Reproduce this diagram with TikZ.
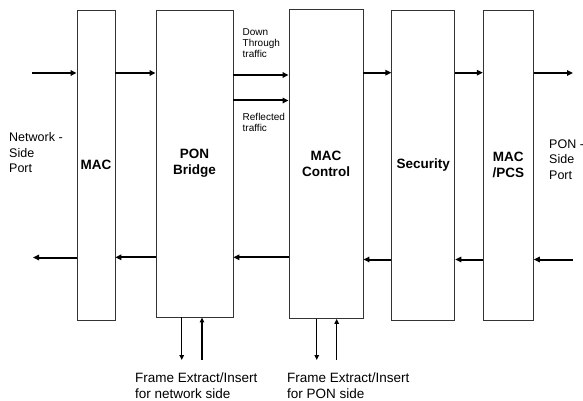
\documentclass[tikz,border=0pt]{standalone}
\usepackage{fontspec}
\setmainfont{Liberation Sans}
\usetikzlibrary{arrows.meta}
\tikzset{
  box/.style={draw=black!80, line width=0.9pt, inner sep=0pt, align=center,
    font=\fontsize{13.5}{16}\selectfont\bfseries},
  arr/.style={line width=2pt, -{Triangle[length=6pt,width=5.5pt]}},
  varr/.style={line width=1.3pt, -{Triangle[length=5pt,width=4.5pt]}},
  lbl/.style={align=left, anchor=west, inner sep=0pt, font=\fontsize{12.5}{15.5}\selectfont},
  flbl/.style={align=left, anchor=west, inner sep=0pt, font=\fontsize{13.5}{16}\selectfont},
  slbl/.style={align=left, anchor=west, inner sep=0pt, font=\fontsize{10}{11}\selectfont},
}
\begin{document}
\begin{tikzpicture}[x=1pt,y=-1pt]
\useasboundingbox (0,0) rectangle (583,401);
% boxes
\node[box, minimum width=38, minimum height=310] (mac) at (96,165) {MAC};
\node[box, minimum width=77, minimum height=307] (bridge) at (194.5,163.5) {PON\\Bridge};
\node[box, minimum width=74, minimum height=309] (ctrl) at (326,164) {MAC\\Control};
\node[box, minimum width=63, minimum height=310] (sec) at (423.3,165) {Security};
\node[box, minimum width=50, minimum height=310] (pcs) at (508.3,165) {MAC\\/PCS};
% free ends
\coordinate (netin) at (32,73);
\coordinate (netout) at (33,257.5);
\coordinate (ponout) at (573,73);
\coordinate (ponin) at (573,259.5);
\coordinate (fe1) at (181.7,360);
\coordinate (fi1) at (202,360);
\coordinate (fe2) at (316.7,360);
\coordinate (fi2) at (336.7,360);
% downstream
\draw[arr] (netin) -- (mac.west |- netin);
\draw[arr] (mac.east |- netin) -- (bridge.west |- netin);
\draw[arr] (bridge.east |- 0,75) -- (ctrl.west |- 0,75);
\draw[arr] (bridge.east |- 0,100.5) -- (ctrl.west |- 0,100.5);
\draw[arr] (ctrl.east |- 0,72.7) -- (sec.west |- 0,72.7);
\draw[arr] (sec.east |- 0,72.7) -- (pcs.west |- 0,72.7);
\draw[arr] (pcs.east |- ponout) -- (ponout);
% upstream
\draw[arr] (ponin) -- (pcs.east |- ponin);
\draw[arr] (pcs.west |- ponin) -- (sec.east |- ponin);
\draw[arr] (sec.west |- ponin) -- (ctrl.east |- ponin);
\draw[arr] (ctrl.west |- 0,257.3) -- (bridge.east |- 0,257.3);
\draw[arr] (bridge.west |- 0,257.3) -- (mac.east |- 0,257.3);
\draw[arr] (mac.west |- netout) -- (netout);
% extract/insert
\draw[varr] (bridge.south -| fe1) -- (fe1);
\draw[varr] (fi1) -- (bridge.south -| fi1);
\draw[varr] (ctrl.south -| fe2) -- (fe2);
\draw[varr] (fi2) -- (ctrl.south -| fi2);
% labels
\node[lbl] (nsp) at (9,153) {Network -\\Side\\Port};
\node[lbl] (psp) at (549,159.5) {PON -\\Side\\Port};
\node[slbl] (dtt) at (242.5,43) {Down\\Through\\traffic};
\node[slbl] (rt) at (242.5,122.5) {Reflected\\traffic};
\node[flbl] (fx1) at (135,385.5) {Frame Extract/Insert\\for network side};
\node[flbl] (fx2) at (287,385.5) {Frame Extract/Insert\\for PON side};
\end{tikzpicture}
\end{document}
